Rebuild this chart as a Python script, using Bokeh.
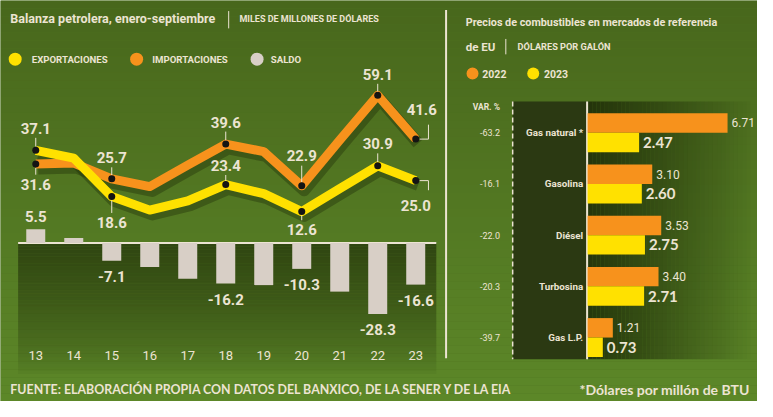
import numpy as np
from bokeh.plotting import figure
from bokeh.models import Range1d
from bokeh.core.properties import value
from bokeh.embed import file_html
from bokeh.resources import INLINE

# ---------------- data ----------------
years = [13, 14, 15, 16, 17, 18, 19, 20, 21, 22, 23]
year_labels = ["13", "14", "15", "16", "17", "18", "19", "20", "21", "22", "23"]
exportaciones = [37.1, 34.0, 18.6, 13.2, 16.9, 23.4, 19.8, 12.6, 21.8, 30.9, 25.0]
importaciones = [31.6, 32.0, 25.7, 22.6, 31.2, 39.6, 36.6, 22.9, 41.2, 59.1, 41.6]
saldo = [5.5, 2.0, -7.1, -9.6, -14.3, -16.2, -16.8, -10.3, -19.4, -28.3, -16.6]
labeled_years = [13, 15, 18, 20, 22, 23]

combustibles = ["Gas natural *", "Gasolina", "Diésel", "Turbosina", "Gas L.P."]
precio_2022 = [6.71, 3.10, 3.53, 3.40, 1.21]
precio_2023 = [2.47, 2.60, 2.75, 2.71, 0.73]
variacion = ["-63.2", "-16.1", "-22.0", "-20.3", "-39.7"]

# ---------------- style ----------------
CREAM = "#ece4d2"
YELLOW = "#ffe100"
ORANGE = "#f7921c"
GRAY = "#d8cfc6"
DARK = "#1a2606"
NARROW = "Roboto"
WIDE = "Lato"

W, H = 757, 401
RW, RH = 773, 417   # layout units of the reference picture
p = figure(width=W, height=H, x_range=Range1d(0, RW), y_range=Range1d(RH, 0),
           output_backend="svg", toolbar_location=None, min_border=0,
           x_axis_location=None, y_axis_location=None)
p.grid.visible = False
p.outline_line_color = None
p.background_fill_color = "#4f7221"
p.border_fill_color = "#4f7221"

# scale geometry (layout of the reference)
X0, DX = 36.0, 38.8           # year 13 position, units per year
ZY, PV = 252.3, 2.6           # zero line, units per value (left chart)
PX0, PP = 599.5, 21.3         # right chart: zero x, units per dollar
RY0, RDY = 137.5, 53.25       # right chart: first row center, units per row
p.extra_x_ranges = {
    "yr": Range1d(13 + (0 - X0) / DX, 13 + (RW - X0) / DX),
    "price": Range1d((0 - PX0) / PP, (RW - PX0) / PP),
}
p.extra_y_ranges = {
    "val": Range1d((ZY - RH) / PV, (ZY - 0) / PV),
    "row": Range1d((RH - RY0) / RDY, (0 - RY0) / RDY),
}


def hexmix(c1, c2, t):
    a = np.array([int(c1[i:i + 2], 16) for i in (1, 3, 5)])
    b = np.array([int(c2[i:i + 2], 16) for i in (1, 3, 5)])
    c = (a + (b - a) * t).round().astype(int)
    return "#%02x%02x%02x" % tuple(c)


# background vertical gradient
n = 50
ys = np.linspace(0, RH, n + 1)
p.quad(left=0, right=RW, top=ys[:-1], bottom=ys[1:],
       fill_color=[hexmix("#48671c", "#5c8728", t) for t in np.linspace(0, 1, n)],
       line_color=None)

# dark gradient below zero line (left chart)
n = 40
ys = np.linspace(ZY, 392, n + 1)
tt = np.linspace(0, 1, n)
p.quad(left=18, right=445, top=ys[:-1], bottom=ys[1:], fill_color=DARK,
       fill_alpha=list(0.62 * (1 - tt) ** 0.7), line_color=None)

# right panel decorations
p.quad(left=523, right=599, top=105, bottom=373, fill_color="#2b3912", line_color=None)
n = 40
xs = np.linspace(600, 770, n + 1)
tt = np.linspace(0, 1, n)
p.quad(left=xs[:-1], right=xs[1:], top=105, bottom=373, fill_color=DARK,
       fill_alpha=list(0.8 * (1 - tt) ** 0.9), line_color=None)
p.segment(x0=[455], y0=[10], x1=[455], y1=[372], line_color=CREAM, line_width=2)
p.segment(x0=[523], y0=[105], x1=[523], y1=[373], line_color=CREAM, line_width=1.5,
          line_dash="5 3")
p.segment(x0=[599], y0=[105], x1=[599], y1=[373], line_color=CREAM, line_width=2)


def txt(x, y, s, size, color=CREAM, font=NARROW, style="bold", align="left",
        baseline="middle", xr="default", yr="default", xo=0, yo=0):
    p.text(x=x, y=y, text=s, text_font=value(font), text_font_size=f"{size}px",
           text_font_style=style, text_color=color, text_align=align,
           text_baseline=baseline, x_range_name=xr, y_range_name=yr,
           x_offset=xo, y_offset=yo)


# ---------------- titles & legends ----------------
txt([10], [19], ["Balanza petrolera, enero-septiembre"], 12.5)
p.segment(x0=[233], y0=[11], x1=[233], y1=[29], line_color=CREAM, line_width=1)
txt([244], [19], ["MILES DE MILLONES DE DÓLARES"], 9)
p.scatter(x=[15, 139, 262], y=[61, 61, 61], size=13,
          fill_color=[YELLOW, ORANGE, GRAY], line_color=None)
txt([32, 155, 276], [61, 61, 61], ["EXPORTACIONES", "IMPORTACIONES", "SALDO"], 9.6)

txt([475], [23], ["Precios de combustibles en mercados de referencia"], 10.8)
txt([475], [48], ["de EU"], 11.5)
p.segment(x0=[516], y0=[40], x1=[516], y1=[56], line_color=CREAM, line_width=1)
txt([528], [48], ["DÓLARES POR GALÓN"], 9.2)
p.scatter(x=[482, 544], y=[76, 76], size=12, fill_color=[ORANGE, YELLOW], line_color=None)
txt([492, 555], [76, 76], ["2022", "2023"], 10.5)

# ---------------- left chart ----------------
p.segment(x0=[18], y0=[ZY], x1=[445], y1=[ZY], line_color=CREAM, line_width=2)
p.vbar(x=years, top=saldo, bottom=0, width=0.5, fill_color=GRAY, line_color=None,
       x_range_name="yr", y_range_name="val")

# shadows
for series in (importaciones, exportaciones):
    p.line(x=[y + 2.5 / DX for y in years], y=[v - 4.5 / PV for v in series],
           line_color=DARK, line_alpha=0.35, line_width=12, line_join="round",
           x_range_name="yr", y_range_name="val")
p.line(x=years, y=importaciones, line_color=ORANGE, line_width=9, line_join="round",
       x_range_name="yr", y_range_name="val")
p.line(x=years, y=exportaciones, line_color=YELLOW, line_width=9, line_join="round",
       x_range_name="yr", y_range_name="val")

idx = [years.index(y) for y in labeled_years]
lx = [years[i] for i in idx]
p.scatter(x=lx + lx, y=[importaciones[i] for i in idx] + [exportaciones[i] for i in idx],
          size=7, fill_color="#141414", line_color=None,
          x_range_name="yr", y_range_name="val")

# label offsets (screen px, +down) for labeled points
exp_dy = [-22, 26, -19, 18, -22, 25]
imp_dy = [20, -21, -22, -30, -21, -30]
imp_dx = [0, 0, 0, 0, 0, 6]
exp_dx = [0, 0, 0, 0, 0, 0]
LBL = 15

for series, dys, dxs in ((exportaciones, exp_dy, exp_dx), (importaciones, imp_dy, imp_dx)):
    vals = [series[i] for i in idx]
    txt(lx, vals, [f"{v:.1f}" for v in vals], LBL, xr="yr", yr="val", xo=dxs, yo=dys,
        align="center")
    # leader lines
    x0s, y0s, x1s, y1s = [], [], [], []
    for k, (x, v, dy) in enumerate(zip(lx, vals, dys)):
        s = 1 if dy > 0 else -1
        if k < len(lx) - 1:
            x0s.append(x); y0s.append(v - s * 4 / PV)
            x1s.append(x); y1s.append(v - (dy - s * 9) / PV)
        else:
            xe = x + 13 / DX
            x0s += [x + 4 / DX, xe]; y0s += [v, v]
            x1s += [xe, xe]; y1s += [v, v - (dy - s * 15) / PV]
    p.segment(x0=x0s, y0=y0s, x1=x1s, y1=y1s, line_color=CREAM, line_width=1,
              x_range_name="yr", y_range_name="val")

sal = [saldo[i] for i in idx]
sal_dy = [-13 if v > 0 else 16 for v in sal]
txt(lx, sal, [f"{v:.1f}" for v in sal], LBL, xr="yr", yr="val", yo=sal_dy, align="center")

p.text(x=years, y=[(ZY - 369.5) / PV] * len(years), text=year_labels,
       text_font=value(NARROW), text_font_size="13px", text_color=CREAM,
       text_align="center", text_baseline="middle", x_range_name="yr", y_range_name="val")

# ---------------- right chart ----------------
rows = list(range(len(combustibles)))
p.hbar(y=[r - 0.19 for r in rows], left=0, right=precio_2022, height=0.38,
       fill_color=ORANGE, line_color=None, x_range_name="price", y_range_name="row")
p.hbar(y=[r + 0.19 for r in rows], left=0, right=precio_2023, height=0.38,
       fill_color=YELLOW, line_color=None, x_range_name="price", y_range_name="row")
txt(precio_2022, [r - 0.19 for r in rows], [f"{v:.2f}" for v in precio_2022], 12,
    style="normal", xr="price", yr="row", xo=4)
txt(precio_2023, [r + 0.19 for r in rows], [f"{v:.2f}" for v in precio_2023], 15,
    font=WIDE, xr="price", yr="row", xo=4)
txt([595] * len(rows), rows, combustibles, 9.8, align="right", yr="row")
txt([510] * len(rows), rows, variacion, 9, style="normal", align="right", yr="row")
txt([510], [111], ["VAR. %"], 8.5, align="right")

# ---------------- footer ----------------
txt([10], [405], ["FUENTE: ELABORACIÓN PROPIA CON DATOS DEL BANXICO, DE LA SENER Y DE LA EIA"],
    12.4, font=WIDE)
txt([765], [405], ["*Dólares por millón de BTU"], 14, font=WIDE, align="right")

open("out.html", "w").write(file_html(p, INLINE))
